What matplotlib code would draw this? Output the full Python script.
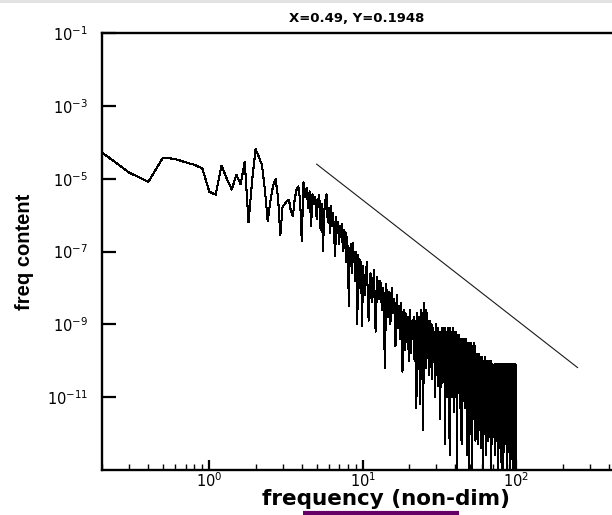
import numpy as np
import matplotlib
matplotlib.use("Agg")
import matplotlib.pyplot as plt
from matplotlib.ticker import FixedLocator, LogLocator, FuncFormatter, NullFormatter
from matplotlib.patches import Rectangle
from matplotlib.lines import Line2D

plt.rcParams["mathtext.fontset"] = "custom"
plt.rcParams["mathtext.rm"] = "Liberation Sans"
plt.rcParams["mathtext.it"] = "Liberation Sans:italic"
plt.rcParams["mathtext.bf"] = "Liberation Sans:bold"

# ---- spectrum, low-frequency part (df = 0.1, values are log10 of the content)
freq_lo = np.round(np.arange(0.2, 9.95, 0.1), 1)
exp_lo = [
    -4.28, -4.83, -5.09, -4.42, -4.46, -4.55, -4.62, -4.72, -5.36, -5.44,   # 0.2 - 1.1
    -4.64, -5.00, -5.30, -4.89, -5.16, -4.53, -6.20, -5.05, -4.19, -4.40,   # 1.2 - 2.1
    -4.62, -5.30, -6.17, -5.60, -5.20, -5.01, -5.50, -6.56, -5.76, -5.70,   # 2.2 - 3.1
    -5.62, -5.58, -5.90, -6.03, -5.55, -5.30, -5.21, -5.60, -6.72, -5.10,   # 3.2 - 4.1
    -5.50, -5.25, -5.80, -5.35, -6.30, -5.43, -5.70, -5.50, -6.10, -5.60,   # 4.2 - 5.1
    -5.45, -6.40, -5.70, -7.00, -5.90, -5.60, -5.43, -6.20, -5.80, -6.50,   # 5.2 - 6.1
    -5.75, -6.30, -5.95, -6.60, -7.13, -6.06, -6.50, -6.20, -6.80, -6.30,   # 6.2 - 7.1
    -6.60, -6.25, -7.00, -6.40, -6.90, -6.45, -7.30, -6.60, -7.20, -8.50,   # 7.2 - 8.1
    -6.90, -7.40, -6.80, -7.60, -6.76, -7.30, -7.00, -7.80, -7.00, -7.50,   # 8.2 - 9.1
    -9.00, -7.10, -7.70, -7.20, -8.00, -7.30, -8.20, -9.05,                 # 9.2 - 9.9
]

# ---- spectrum, high-frequency part (df = 0.3 from 10 to 100)
freq_hi = np.round(10.0 + 0.3 * np.arange(301), 1)
exp_hi = [
    -7.4, -8.2, -7.3, -8.9, -7.6, -8.4, -7.5, -9.2, -7.7, -8.3,        # 10.0
    -7.8, -8.6, -8.0, -10.2, -7.9, -8.8, -8.1, -9.0, -8.0, -8.7,       # 13.0
    -8.3, -9.6, -8.2, -9.1, -8.5, -9.4, -8.4, -10.3, -8.6, -9.7,       # 16.0
    -8.7, -9.5, -8.8, -10.0, -8.6, -9.8, -8.9, -9.4, -8.8, -10.0,      # 19.0
    -8.9, -11.3, -8.7, -10.2, -8.8, -11.2, -8.6, -10.5, -8.7, -11.9,   # 22.0
    -8.4, -9.9, -8.6, -10.2, -8.7, -9.7, -8.9, -10.4, -8.9, -10.0,     # 25.0
    -9.0, -10.5, -9.1, -10.0, -9.2, -11.0, -9.0, -10.4, -9.3, -10.7,   # 28.0
    -9.1, -10.4, -9.2, -11.6, -9.3, -10.3, -9.1, -10.6, -9.3, -10.2,   # 31.0
    -9.1, -12.3, -9.2, -10.6, -9.3, -11.0, -9.1, -10.5, -9.2, -12.6,   # 34.0
    -9.1, -10.6, -9.2, -11.0, -9.3, -10.4, -9.1, -11.4, -9.2, -10.8,   # 37.0
    -9.3, -11.0, -9.2, -13.5, -9.3, -10.6, -9.4, -10.9, -9.3, -11.3,   # 40.0
    -9.4, -10.8, -9.5, -12.3, -9.4, -11.0, -9.5, -10.7, -9.4, -11.1,   # 43.0
    -9.5, -11.3, -9.4, -10.9, -9.6, -12.6, -9.5, -11.0, -9.6, -11.2,   # 46.0
    -9.5, -13.5, -9.6, -11.1, -9.5, -11.0, -9.6, -13.5, -9.7, -11.4,   # 49.0
    -9.6, -11.2, -9.5, -11.6, -9.7, -11.0, -9.6, -12.2, -9.8, -11.3,   # 52.0
    -9.9, -11.6, -9.8, -11.2, -10.0, -12.3, -9.9, -11.7, -9.8, -11.9,  # 55.0
    -10.0, -11.4, -9.9, -12.4, -10.1, -11.8, -9.9, -11.3, -10.0, -13.5,  # 58.0
    -10.0, -11.8, -10.1, -11.5, -9.9, -12.0, -10.1, -11.6, -10.0, -12.6,  # 61.0
    -10.1, -11.7, -10.0, -12.2, -10.2, -11.9, -10.1, -11.4, -10.0, -12.1,  # 64.0
    -10.2, -11.6, -10.1, -12.0, -10.0, -13.5, -10.2, -11.7, -10.1, -12.3,  # 67.0
    -10.1, -11.9, -10.2, -11.5, -10.3, -12.1, -10.1, -12.6, -10.2, -11.8,  # 70.0
    -10.3, -11.6, -10.1, -12.2, -10.2, -11.9, -10.3, -11.7, -10.1, -13.5,  # 73.0
    -10.2, -12.0, -10.3, -11.6, -10.1, -12.4, -10.2, -11.9, -10.3, -12.2,  # 76.0
    -10.1, -11.7, -10.3, -12.8, -10.2, -12.0, -10.1, -13.5, -10.3, -11.8,  # 79.0
    -10.2, -12.1, -10.1, -11.6, -10.3, -12.5, -10.2, -11.9, -10.1, -12.3,  # 82.0
    -10.3, -11.8, -10.2, -12.1, -10.1, -13.5, -10.3, -11.7, -10.2, -12.2,  # 85.0
    -10.1, -12.5, -10.3, -11.9, -10.2, -12.3, -10.1, -12.0, -10.3, -11.6,  # 88.0
    -10.2, -13.5, -10.1, -12.1, -10.3, -11.8, -10.2, -12.7, -10.1, -11.9,  # 91.0
    -10.3, -12.2, -10.2, -13.5, -10.1, -11.7, -10.3, -12.0, -10.2, -12.4,  # 94.0
    -10.1, -12.6, -10.3, -11.9, -10.2, -13.5, -10.1, -11.8, -10.3, -12.0,  # 97.0
    -13.5,                                                                 # 100.0
]

# ---- reference power-law slope line
slope_freq = [5.0, 250.0]
slope_val = [2.5e-5, 6.5e-11]

x_limits = (0.2, 1000.0)
y_limits = (1e-13, 1e-1)
x_tick_values = [1.0, 10.0, 100.0]
y_tick_values = [1e-11, 1e-9, 1e-7, 1e-5, 1e-3, 1e-1]

freq = np.concatenate([freq_lo, freq_hi])
content = 10.0 ** np.concatenate([np.array(exp_lo), np.array(exp_hi)])

W, H = 612, 515
fig = plt.figure(figsize=(W / 100, H / 100), dpi=100)
fig.patch.set_facecolor("white")

# thin grey strip along the top edge
fig.patches.append(Rectangle((0, 1 - 3 / H), 1, 3 / H, transform=fig.transFigure,
                             facecolor="#e2e2e2", edgecolor="none"))

ax = fig.add_axes([102 / W, 45 / H, 568 / W, 437 / H])
ax.set_xscale("log")
ax.set_yscale("log")
ax.set_xlim(*x_limits)
ax.set_ylim(*y_limits)

ax.plot(freq, content, color="black", lw=0.75, antialiased=False)
ax.plot(slope_freq, slope_val, color="#1a1a1a", lw=0.8)

for s in ax.spines.values():
    s.set_linewidth(1.7)

def dec_label(v, pos):
    e = int(round(np.log10(v)))
    return r"$\mathregular{10^{%d}}$" % e

ax.xaxis.set_major_locator(FixedLocator(x_tick_values))
ax.xaxis.set_minor_locator(LogLocator(base=10, subs=np.arange(2, 10), numticks=20))
ax.xaxis.set_major_formatter(FuncFormatter(dec_label))
ax.xaxis.set_minor_formatter(NullFormatter())
ax.yaxis.set_major_locator(FixedLocator(y_tick_values))
ax.yaxis.set_minor_locator(FixedLocator([]))
ax.yaxis.set_major_formatter(FuncFormatter(dec_label))

ax.tick_params(axis="x", which="major", direction="in", length=7, width=1.6,
               pad=1, labelsize=10.5, top=False)
ax.tick_params(axis="x", which="minor", direction="in", length=4, width=1.0, top=False)
ax.tick_params(axis="y", which="major", direction="in", length=10, width=1.6,
               pad=10, labelsize=10.5, right=False)

ax.set_xlabel("frequency (non-dim)", family="DejaVu Sans", weight="bold", fontsize=15.5)
ax.xaxis.set_label_coords(0.5, -0.044)
ax.xaxis.label.set_va("top")
ax.set_ylabel("freq content", family="Liberation Sans", weight="bold", fontsize=14.5)
ax.yaxis.set_label_coords(-0.137, 0.5)
ax.yaxis.label.set_va("center")

fig.text(357 / W, 1 - 18 / H, "X=0.49, Y=0.1948", family="DejaVu Sans",
         weight="bold", fontsize=9.5, ha="center", va="center")

# purple underline below the axis title
fig.lines.append(Line2D([303 / W, 459 / W], [2.5 / H, 2.5 / H], transform=fig.transFigure,
                        color="#660066", lw=3.0, solid_capstyle="butt"))

fig.savefig("out.png", dpi=100)
